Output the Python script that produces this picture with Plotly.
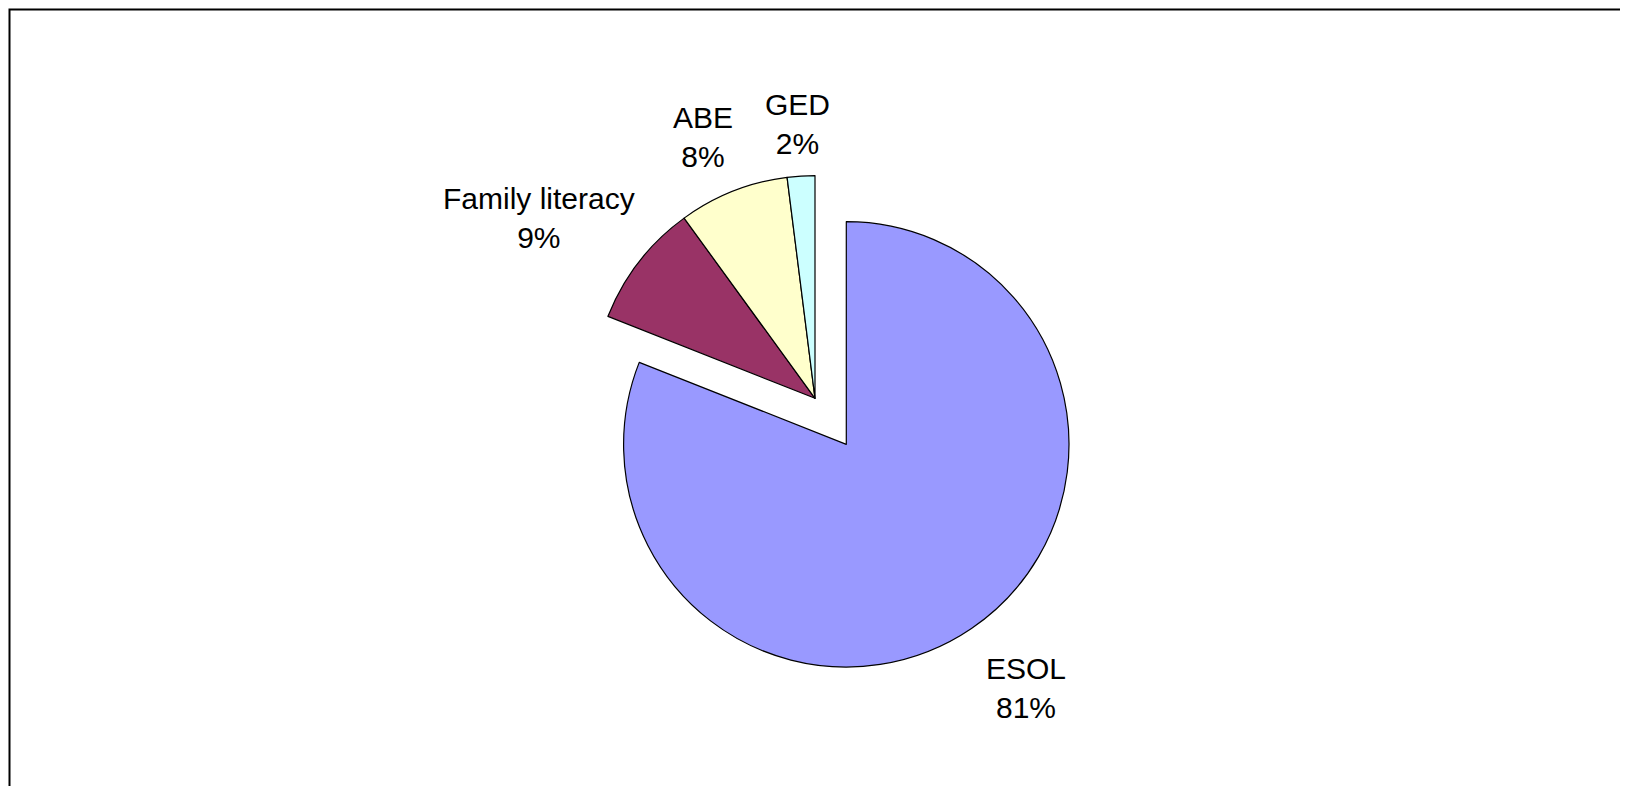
import math
import plotly.graph_objects as go

categories = ["ESOL", "Family literacy", "ABE", "GED"]
values = [81, 9, 8, 2]
colors = ["#9999FF", "#993366", "#FFFFCC", "#CCFFFF"]
pulls = [0.25, 0, 0, 0]

W, H = 1628, 786

# pie geometry (plot pixels)
CX, CY = 807.0, 390.3      # unpulled centre
R = 222.7                  # radius
half = R * (1 + max(pulls))

dom_x = [(CX - half) / W, (CX + half) / W]
dom_y = [1 - (CY + half) / H, 1 - (CY - half) / H]

FONT = dict(family="Liberation Sans, Arial, sans-serif", size=30, color="#000000")

fig = go.Figure(go.Pie(
    labels=categories,
    values=values,
    sort=False,
    direction="clockwise",
    rotation=0,
    pull=pulls,
    marker=dict(colors=colors, line=dict(color="#000000", width=1.2)),
    textinfo="none",
    domain=dict(x=dom_x, y=dom_y),
    showlegend=False,
    hoverinfo="label+value+percent",
    automargin=False,
))

# label placement (radius factor, angle tweak in degrees) per slice
label_style = [(1.357, -2.2), (1.482, -4.6), (1.275, -1.6), (1.234, 0.0)]

total = sum(values)
annotations = []
cum = 0.0
for cat, v, p, (rf, dth) in zip(categories, values, pulls, label_style):
    mid = (cum + v / 2) / total * 360.0
    cum += v
    th = math.radians(mid)
    ux, uy = math.sin(th), -math.cos(th)
    cx, cy = CX + p * R * ux, CY + p * R * uy
    th2 = math.radians(mid + dth)
    lx = cx + rf * R * math.sin(th2)
    ly = cy - rf * R * math.cos(th2)
    pct = round(v / total * 100)
    annotations.append(dict(
        x=lx / W, y=1 - ly / H, xref="paper", yref="paper",
        text=f"{cat}<br>{pct}%", showarrow=False,
        xanchor="center", yanchor="middle", align="center", font=FONT,
    ))

fig.update_layout(
    width=W, height=H,
    margin=dict(l=0, r=0, t=0, b=0),
    paper_bgcolor="#FFFFFF",
    plot_bgcolor="#FFFFFF",
    showlegend=False,
    annotations=annotations,
    shapes=[dict(type="rect", xref="paper", yref="paper",
                 x0=1.5 / W, x1=1615.5 / W, y0=-0.05, y1=1 - 1.5 / H,
                 line=dict(color="#000000", width=2), fillcolor="rgba(0,0,0,0)")],
)

fig.write_html("out.html")
